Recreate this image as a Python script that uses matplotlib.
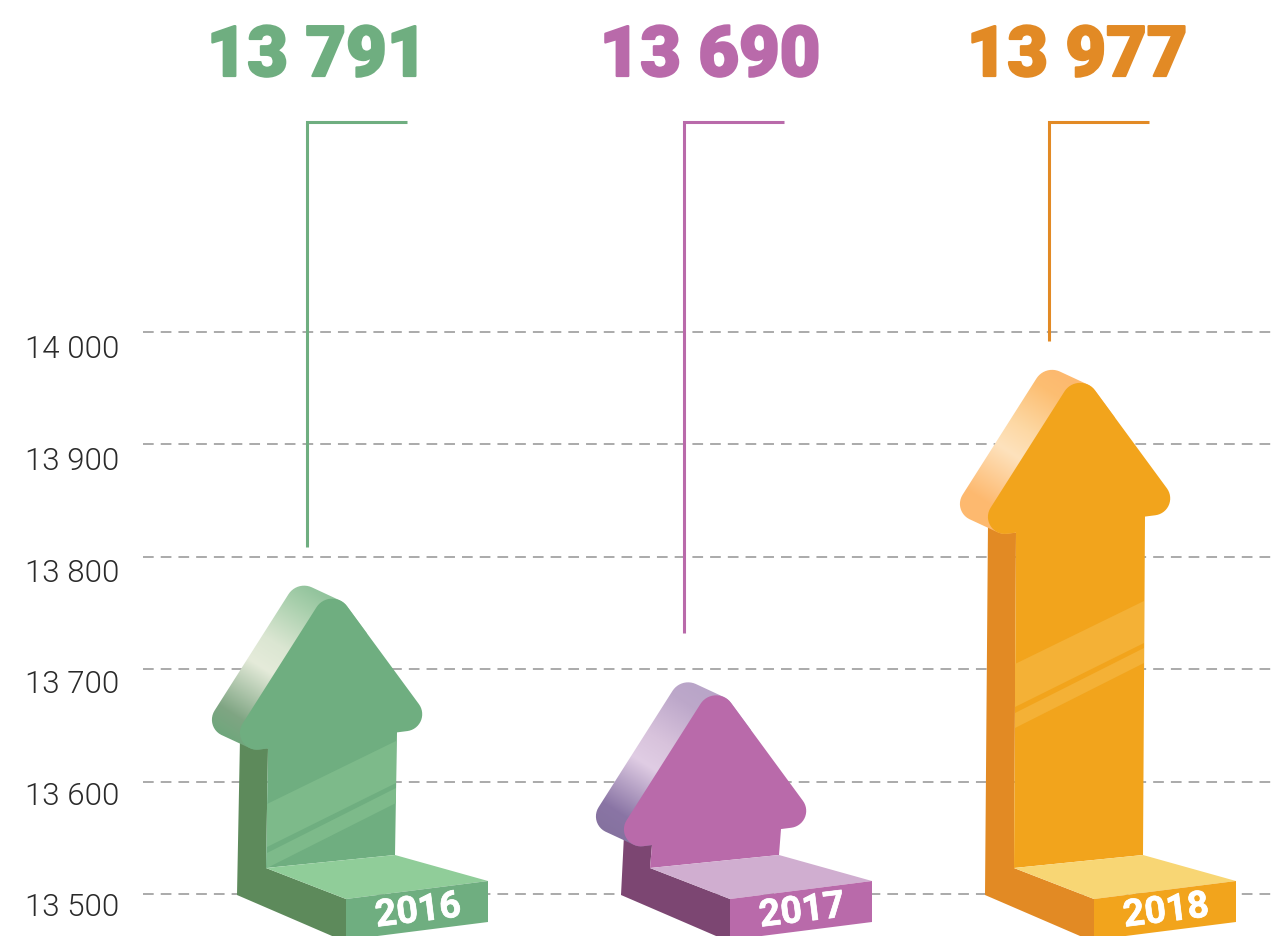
import numpy as np
import matplotlib
matplotlib.use("Agg")
import matplotlib.pyplot as plt
from matplotlib.patches import Polygon
from matplotlib.colors import to_rgb
from matplotlib.transforms import ScaledTranslation
import matplotlib.patheffects as pe

years = ["2016", "2017", "2018"]
values = [13791, 13690, 13977]
value_labels = ["13 791", "13 690", "13 977"]
arrow_tip_values = [13763, 13677, 13955]
leader_end_values = [13809, 13732, 13992]
leader_top_value = 14187
grid_values = [13500, 13600, 13700, 13800, 13900, 14000]
grid_labels = ["13 500", "13 600", "13 700", "13 800", "13 900", "14 000"]

arrow_left = [237, 621, 985]
leader_x = [307, 684, 1049]
label_x = [316, 709, 1076]
band_lift = [0, None, 140]

front = ["#6fae80", "#b96aaa", "#f2a41c"]
side = ["#5d8a5b", "#7c4672", "#e28a24"]
top_face = ["#90cd99", "#d0aed0", "#f8d674"]
band = ["#7dba8a", None, "#f4b136"]
leader_col = ["#6fae80", "#b96aaa", "#e28a25"]
grad_pos = [0, .14, .46, .62, .88, 1]
grads = [["#6fa77c", "#7fa583", "#e5ebda", "#dbe6d2", "#a8cfac", "#93c49d"],
         ["#85729f", "#8a75a5", "#e0cde4", "#d8c3dc", "#bda8ca", "#b9a5c8"],
         ["#fdb96f", "#fdb96f", "#fde2bd", "#fdd8a4", "#fcbe72", "#fdb96f"]]

W, H = 1271, 936
PX_PER_UNIT = 1.124
fig = plt.figure(figsize=(W / 100, H / 100), dpi=100)
ax = fig.add_axes([143 / W, 0, (W - 143) / W, 1])
ymin = 13500 - (H - 894) / PX_PER_UNIT
ymax = 13500 + 894 / PX_PER_UNIT


def fillet(p_prev, corner, p_next, r, n=16):
    """Points of a circular fillet at a corner, ordered from p_prev side to p_next side."""
    c = np.array(corner, float)
    u = np.array(p_prev, float) - c
    v = np.array(p_next, float) - c
    u /= np.hypot(*u)
    v /= np.hypot(*v)
    half = np.arccos(np.clip(u @ v, -1, 1)) / 2
    d = r / np.tan(half)
    b = (u + v) / np.hypot(*(u + v))
    centre = c + b * r / np.sin(half)
    p0 = c + u * d - centre
    p1 = c + v * d - centre
    a0 = np.arctan2(p0[1], p0[0])
    a1 = np.arctan2(p1[1], p1[0])
    da = (a1 - a0 + np.pi) % (2 * np.pi) - np.pi
    ang = a0 + np.linspace(0, 1, n) * da
    return centre + r * np.column_stack([np.cos(ang), np.sin(ang)])


def hull(pts):
    ps = sorted(map(tuple, pts))

    def half(seq):
        out = []
        for p in seq:
            while len(out) >= 2 and ((out[-1][0] - out[-2][0]) * (p[1] - out[-2][1])
                                     - (out[-1][1] - out[-2][1]) * (p[0] - out[-2][0])) <= 0:
                out.pop()
            out.append(p)
        return out[:-1]

    return np.array(half(ps) + half(ps[::-1]))


def to_data(pts, x0, yref):
    p = np.array(pts, float)
    return np.column_stack([x0 + p[:, 0], yref - p[:, 1] / PX_PER_UNIT])


# arrow outline in px relative to the left edge and the visual tip
APEX = (94, -14)
RIGHT = (199, 129)
LEFT = (-14, 156)
STEM_L = (31, 150)
STEM_R = (160, 134)
OFF = np.array([-28, -13])

left_arc = fillet(STEM_L, LEFT, APEX, 17)
apex_arc = fillet(LEFT, APEX, RIGHT, 18.5)
right_arc = fillet(APEX, RIGHT, STEM_R, 17)
head_outline = np.vstack([left_arc, apex_arc, right_arc])

for i, yr in enumerate(years):
    x0 = arrow_left[i]
    tip = arrow_tip_values[i]
    t2b = (tip - 13500) * PX_PER_UNIT  # px from baseline up to tip

    def H2B(p):  # head coords -> base coords
        return (p[0], p[1] - t2b)

    # dark side of shaft and base
    side_pts = [H2B((3, 140)), (0, 1), (109, 48), (109, 5), (29, -26), H2B(STEM_L)]
    ax.add_patch(Polygon(to_data(side_pts, x0, 13500), closed=True, fc=side[i], ec="none", zorder=3))

    # gradient side of head
    shell = hull(np.vstack([head_outline, head_outline + OFF]))
    sp = Polygon(to_data(shell, x0, tip), closed=True, fc="none", ec="none", zorder=4)
    ax.add_patch(sp)
    bx0, bx1 = -60, 130
    by0, by1 = -40, 190
    gx, gy = np.meshgrid(np.arange(bx0, bx1), np.arange(by0, by1))
    sx, sy = left_arc[-1] + OFF
    ex, ey = apex_arc[0] + OFF
    dv = np.array([ex - sx, ey - sy])
    tt = ((gx - sx) * dv[0] + (gy - sy) * dv[1]) / (dv @ dv)
    tt = 0.1 + tt * 0.8
    rgb = np.array([to_rgb(c) for c in grads[i]])
    img = np.dstack([np.interp(tt, grad_pos, rgb[:, k]) for k in range(3)])
    im = ax.imshow(img, extent=(x0 + bx0, x0 + bx1, tip - by1 / PX_PER_UNIT, tip - by0 / PX_PER_UNIT),
                   origin="upper", aspect="auto", zorder=4, interpolation="bilinear")
    im.set_clip_path(sp)

    # front face
    shaft_r = (158, -39 + t2b)
    shaft_l = (29, -26 + t2b)
    face = np.vstack([[STEM_L], head_outline, [STEM_R], [shaft_r], [shaft_l]])
    ax.add_patch(Polygon(to_data(face, x0, tip), closed=True, fc=front[i], ec="none", zorder=5))

    # light bands on shaft
    if band[i] is not None:
        lift = band_lift[i]
        for b in ([(30, -90), (159, -153), (159, -111), (30, -47)],
                  [(30, -41), (159, -106), (159, -91), (30, -26)]):
            pts = [(px, py - lift) for px, py in b]
            ax.add_patch(Polygon(to_data(pts, x0, 13500), closed=True, fc=band[i], ec="none", zorder=6))

    # base
    ax.add_patch(Polygon(to_data([(29, -26), (158, -39), (251, -13), (109, 5)], x0, 13500),
                         closed=True, fc=top_face[i], ec="none", zorder=6))
    ax.add_patch(Polygon(to_data([(109, 5), (251, -13), (251, 28), (109, 46)], x0, 13500),
                         closed=True, fc=front[i], ec="none", zorder=6))
    ax.text(x0 + 181, 13500 - 17 / PX_PER_UNIT, yr, color="white", family="Roboto", weight="bold",
            fontsize=27, rotation=7, rotation_mode="anchor", ha="center", va="center", zorder=7,
            path_effects=[pe.withStroke(linewidth=0.5, foreground="white")])

    # leader line
    ax.plot([leader_x[i] + 100, leader_x[i], leader_x[i]],
            [leader_top_value, leader_top_value, leader_end_values[i]],
            color=leader_col[i], lw=2.2, solid_joinstyle="miter", solid_capstyle="butt", zorder=2)

    # value
    ax.text(label_x[i] + 1, 13500 + (894 - 76) / PX_PER_UNIT, value_labels[i], color=leader_col[i],
            family="Roboto", weight=900, fontsize=50.5, ha="center", va="baseline", zorder=7,
            path_effects=[pe.withStroke(linewidth=1.6, foreground=leader_col[i])])

ax.set_xlim(143, W)
ax.set_ylim(ymin, ymax)
ax.set_xticks([])
ax.set_yticks(grid_values, grid_labels)
ax.grid(axis="y", color="#939393", lw=1.1, linestyle=(0, (7, 4.6)), zorder=1)
ax.set_axisbelow(True)
ax.tick_params(axis="y", length=0, pad=17, labelsize=22.5, labelcolor="#2a2a2a")
for k, lab in enumerate(ax.get_yticklabels()):
    lab.set_family("Roboto")
    lab.set_weight(300)
    off = ScaledTranslation(0, -(11 + 0.8 * k) / 100, fig.dpi_scale_trans)
    lab.set_transform(lab.get_transform() + off)
for s in ax.spines.values():
    s.set_visible(False)
ax.patch.set_alpha(0)

fig.savefig("out.png", dpi=100, facecolor="white")
